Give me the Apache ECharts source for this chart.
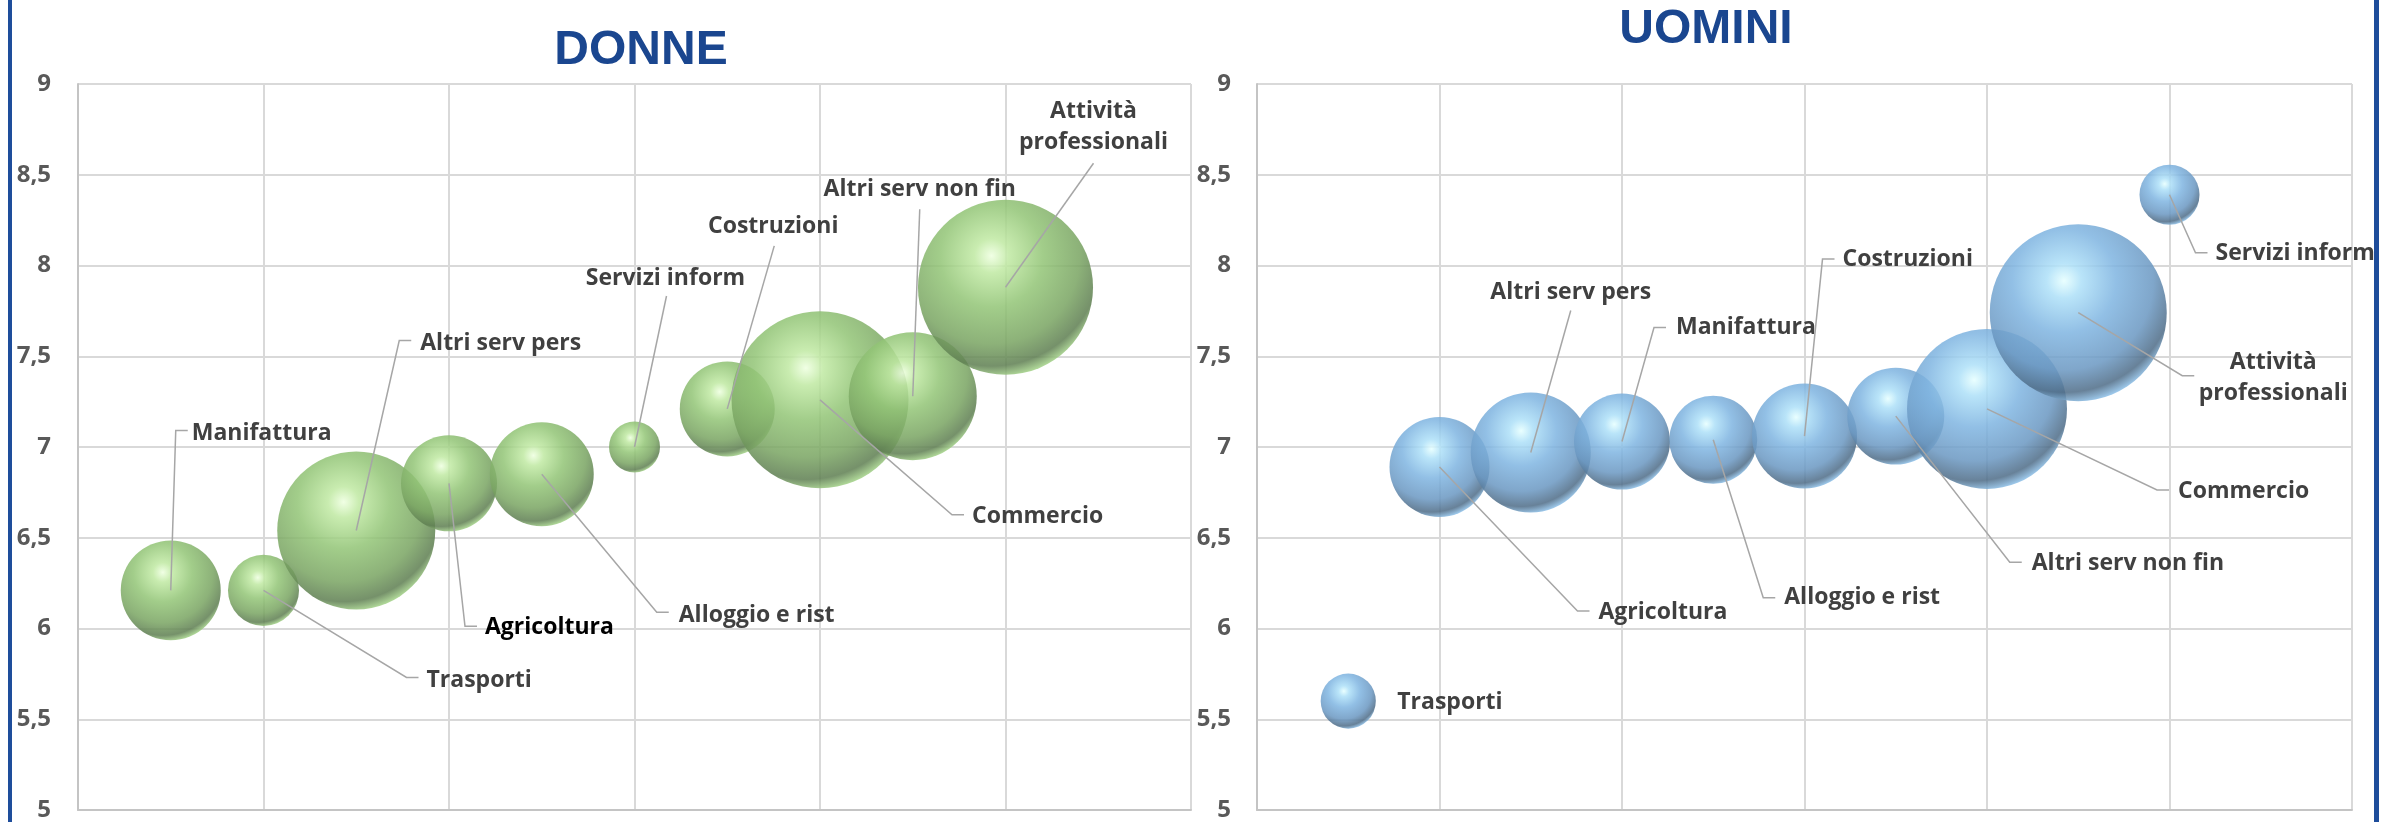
<!DOCTYPE html>
<html>
<head>
<meta charset="utf-8">
<script src="https://cdn.jsdelivr.net/npm/echarts@6/dist/echarts.min.js"></script>
<style>
  html, body { margin: 0; padding: 0; background: #ffffff; }
  #chart { width: 2392px; height: 822px; }
</style>
</head>
<body>
<div id="chart"></div>
<script>
// ---- DONNE: settori ordinati per punteggio ----
const donneSettori = ['Manifattura', 'Trasporti', 'Altri serv pers', 'Agricoltura', 'Alloggio e rist',
  'Servizi inform', 'Costruzioni', 'Commercio', 'Altri serv non fin', 'Attività professionali'];
const donneRango = [1, 2, 3, 4, 5, 6, 7, 8, 9, 10];
const donnePunteggio = [6.21, 6.21, 6.54, 6.80, 6.85, 7.00, 7.21, 7.26, 7.28, 7.88];
const donnePeso = [31.9, 16.1, 79.7, 29.4, 34.5, 8.3, 28.8, 100, 52.3, 97.8];

// ---- UOMINI: settori ordinati per punteggio ----
const uominiSettori = ['Trasporti', 'Agricoltura', 'Altri serv pers', 'Manifattura', 'Alloggio e rist',
  'Costruzioni', 'Altri serv non fin', 'Commercio', 'Attività professionali', 'Servizi inform'];
const uominiRango = [1, 2, 3, 4, 5, 6, 7, 8, 9, 10];
const uominiPunteggio = [5.60, 6.89, 6.97, 7.03, 7.04, 7.06, 7.17, 7.21, 7.74, 8.39];
const uominiPeso = [9.7, 31.9, 46.0, 29.4, 24.7, 35.2, 30.0, 81.7, 100, 11.5];

// ---- assi ----
const titoli = ['DONNE', 'UOMINI'];
const yMin = 5, yMax = 9, yPasso = 0.5;
const xMin = 0, xMax = 12, xPasso = 2;

// ---- etichette: offset (px) dal centro della bolla ----
// e: fine della linea guida, tick: trattino orizzontale, t: ancoraggio del testo
const donneEtichette = [
  { e: [5, -160], tick: true, t: [21, -157], align: 'left' },
  { e: [143, 87], tick: true, t: [163, 90], align: 'left' },
  { e: [43, -190], tick: true, t: [64, -187], align: 'left' },
  { e: [16, 143], tick: true, t: [36, 144], align: 'left', color: '#000000' },
  { e: [115, 138], tick: true, t: [137, 141], align: 'left' },
  { e: [32, -151], t: [31, -169], align: 'center' },
  { e: [47, -163], t: [46, -182], align: 'center' },
  { e: [132, 115], tick: true, t: [152, 117], align: 'left' },
  { e: [7, -187], t: [7, -207], align: 'center' },
  { e: [88, -124], t: [88, -160], align: 'center', wrap: true }
];
const uominiEtichette = [
  { t: [49, 1], align: 'left' },
  { e: [138, 144], tick: true, t: [159, 145], align: 'left' },
  { e: [40, -142], t: [40, -160], align: 'center' },
  { e: [32, -114], tick: true, t: [54, -114], align: 'left' },
  { e: [50, 158], tick: true, t: [71, 158], align: 'left' },
  { e: [18, -177], tick: true, t: [38, -177], align: 'left' },
  { e: [114, 146], tick: true, t: [136, 147], align: 'left' },
  { e: [170, 81], tick: true, t: [191, 83], align: 'left' },
  { e: [104, 63], tick: true, t: [195, 65], align: 'center', wrap: true },
  { e: [26, 58], tick: true, t: [46, 59], align: 'left' }
];

const FONT_LABEL = 'bold 23px "Open Sans", Lato, sans-serif';
const MAX_BUBBLE = 177;

function bolla(c0, c1, c2, c3, c4, rim) {
  return new echarts.graphic.RadialGradient(0.42, 0.32, 0.7, [
    { offset: 0, color: c0 },
    { offset: 0.14, color: c1 },
    { offset: 0.42, color: c2 },
    { offset: 0.72, color: c3 },
    { offset: 0.9, color: c4 },
    { offset: 1, color: rim }
  ]);
}
const verde = bolla('#eeffe0', '#c0e9a3', '#93c577', '#7aa563', '#5f7f52', '#a8d88c');
const azzurro = bolla('#e6ffff', '#aee0f8', '#80b5e1', '#6b98c2', '#4f6d88', '#92c6ef');

function punti(rango, punteggio, peso) {
  return rango.map((x, i) => [x, punteggio[i], peso[i]]);
}

function etichette(nomi, layout) {
  return function (params, api) {
    const i = params.dataIndex;
    const c = api.coord([api.value(0), api.value(1)]);
    const L = layout[i];
    const children = [];
    if (L.e) {
      const e = [c[0] + L.e[0], c[1] + L.e[1]];
      const pts = [c, e];
      if (L.tick) pts.push([e[0] + 12, e[1]]);
      children.push({
        type: 'polyline',
        shape: { points: pts },
        style: { stroke: '#a6a6a6', lineWidth: 1.5, fill: null }
      });
    }
    const testo = L.wrap ? nomi[i].replace(' ', '\n') : nomi[i];
    children.push({
      type: 'text',
      x: c[0] + L.t[0],
      y: c[1] + L.t[1],
      style: {
        text: testo,
        fill: L.color || '#404040',
        font: FONT_LABEL,
        align: L.align,
        verticalAlign: 'middle',
        lineHeight: 31
      }
    });
    return { type: 'group', children: children };
  };
}

function asseX(grid) {
  return {
    type: 'value', gridIndex: grid, min: xMin, max: xMax, interval: xPasso,
    axisLabel: { show: false }, axisTick: { show: false },
    axisLine: { show: true, lineStyle: { color: '#c4c4c4', width: 2 } },
    splitLine: { show: true, lineStyle: { color: '#d9d9d9', width: 2 } }
  };
}
function asseY(grid, margin) {
  return {
    type: 'value', gridIndex: grid, min: yMin, max: yMax, interval: yPasso,
    axisTick: { show: false },
    axisLine: { show: true, lineStyle: { color: '#c4c4c4', width: 2 } },
    splitLine: { show: true, lineStyle: { color: '#d9d9d9', width: 2 } },
    axisLabel: {
      margin: margin, color: '#595959', fontSize: 24, fontWeight: 'bold',
      fontFamily: '"Open Sans", Lato, sans-serif',
      formatter: v => String(v).replace('.', ',')
    }
  };
}

function serieBolle(grid, dati, colore) {
  const maxPeso = Math.max(...dati.map(d => d[2]));
  return {
    type: 'scatter', xAxisIndex: grid, yAxisIndex: grid, data: dati, z: 2,
    symbolSize: v => MAX_BUBBLE * Math.sqrt(v[2] / maxPeso),
    itemStyle: { color: colore, opacity: 0.86 },
    emphasis: { disabled: true }
  };
}
function serieEtichette(grid, dati, nomi, layout) {
  return {
    type: 'custom', xAxisIndex: grid, yAxisIndex: grid, z: 5, clip: false, silent: true,
    data: dati.map(d => [d[0], d[1]]),
    renderItem: etichette(nomi, layout)
  };
}

const datiDonne = punti(donneRango, donnePunteggio, donnePeso);
const datiUomini = punti(uominiRango, uominiPunteggio, uominiPeso);

const chart = echarts.init(document.getElementById('chart'), null, { renderer: 'canvas' });
chart.setOption({
  backgroundColor: '#ffffff',
  animation: false,
  grid: [
    { left: 78, top: 84, width: 1113, height: 729 },
    { left: 1257, top: 84, width: 1095, height: 726 }
  ],
  xAxis: [asseX(0), asseX(1)],
  yAxis: [asseY(0, 27), asseY(1, 26)],
  series: [
    serieBolle(0, datiDonne, verde),
    serieEtichette(0, datiDonne, donneSettori, donneEtichette),
    serieBolle(1, datiUomini, azzurro),
    serieEtichette(1, datiUomini, uominiSettori, uominiEtichette)
  ],
  graphic: [
    { type: 'rect', shape: { x: 8, y: 0, width: 4, height: 822 }, style: { fill: '#1e4d9b' } },
    { type: 'rect', shape: { x: 2374, y: 0, width: 5, height: 822 }, style: { fill: '#1e4d9b' } },
    { type: 'text', x: 641, y: 51, style: { text: titoli[0], font: 'bold 48px "Liberation Sans", Arial, sans-serif', fill: '#1a468f', align: 'center', verticalAlign: 'middle' } },
    { type: 'text', x: 1706, y: 30, style: { text: titoli[1], font: 'bold 48px "Liberation Sans", Arial, sans-serif', fill: '#1a468f', align: 'center', verticalAlign: 'middle' } }
  ]
});
</script>
</body>
</html>
